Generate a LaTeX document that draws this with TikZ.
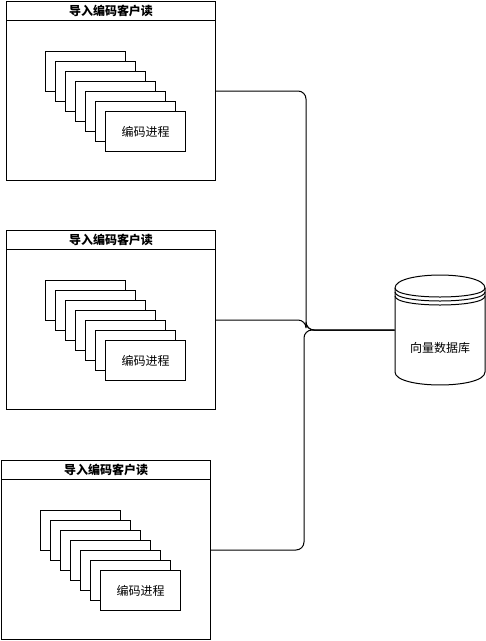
\documentclass[tikz,border=0pt]{standalone}
\usepackage{fontspec}
\setmainfont{Noto Sans CJK SC}
\usetikzlibrary{positioning}
\tikzset{
  panel/.style={draw, minimum width=209pt, minimum height=179pt, inner sep=0pt},
  titlebar/.style={draw, minimum width=209pt, minimum height=19pt, inner sep=0pt, font=\fontsize{12}{14}\selectfont\bfseries},
  procbox/.style={draw, fill=white, minimum width=80pt, minimum height=40pt, inner sep=0pt, anchor=north west},
  link/.style={rounded corners=8pt}
}
\begin{document}
\begin{tikzpicture}[x=1pt, y=-1pt, line width=1pt, font=\fontsize{12}{14}\selectfont]
  \useasboundingbox (0,0) rectangle (486,641);
  % three client panels
  \foreach \k/\px/\py in {1/6/1, 2/6/230, 3/1/460} {
    \node[panel, anchor=north west] (c\k) at (\px,\py) {};
    \node[titlebar, anchor=north] (t\k) at (c\k.north) {导入编码客户读};
    \foreach \i in {0,...,5}
      \node[procbox] (p\k-\i) at (\px+39+10*\i, \py+50+10*\i) {};
    \node[procbox] (p\k) at (\px+99, \py+110) {编码进程};
  }
  % vector database
  \node[minimum width=90pt, minimum height=110pt, inner sep=0pt] (db) at (440,330) {};
  \draw[fill=white] (395,288) .. controls (395,270.7) and (485,270.7) .. (485,288)
    -- (485,372) .. controls (485,389.3) and (395,389.3) .. (395,372) -- cycle;
  \draw (395,288) .. controls (395,300) and (485,300) .. (485,288);
  \draw (395,292) .. controls (395,304) and (485,304) .. (485,292);
  \draw (395,296) .. controls (395,308) and (485,308) .. (485,296);
  \node (dblabel) at (440,348) {向量数据库};
  % connectors
  \draw[link] (c1.east) -- ++(90,0) |- (db.west);
  \draw[link] (c2.east) -- ++(90,0) |- (db.west);
  \draw[link] (c3.east) -- ++(93,0) |- (db.west);
\end{tikzpicture}
\end{document}
